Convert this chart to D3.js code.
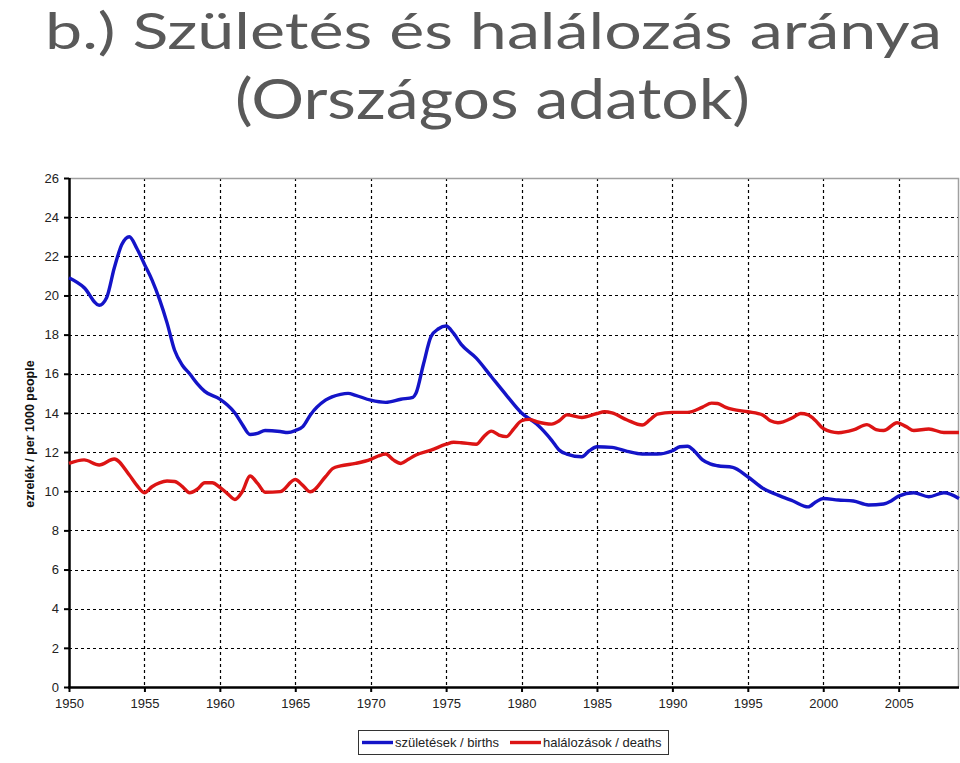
<!DOCTYPE html>
<html><head><meta charset="utf-8">
<script src="https://cdn.jsdelivr.net/npm/d3@7"></script>
<style>
html,body{margin:0;padding:0;background:#fff;}
svg{display:block;}
</style></head>
<body>
<svg id="c" width="960" height="763"></svg>
<script>
const titleLines = ["b.) Születés és halálozás aránya", "(Országos adatok)"];
const yAxisTitle = "ezrelék / per 1000 people";
const seriesNames = ["születések / births", "halálozások / deaths"];
const xTicks = [1950,1955,1960,1965,1970,1975,1980,1985,1990,1995,2000,2005];
const yTicks = [0,2,4,6,8,10,12,14,16,18,20,22,24,26];

const birthYears = [1950,1951,1952,1952.5,1953,1953.5,1954,1954.5,1955,1955.5,1956,1956.5,1957,1957.5,1958,1958.5,1959,1960,1960.5,1961,1961.5,1962,1962.5,1963,1964,1964.5,1965,1965.5,1966,1967,1968,1968.5,1969,1970,1971,1972,1972.8,1973,1973.5,1974,1974.5,1975,1975.5,1976,1977,1978,1979,1980,1981,1982,1982.5,1983,1984,1984.5,1985,1986,1987,1988,1989,1990,1990.5,1991,1991.5,1992,1992.5,1993,1994,1995,1996,1997,1998,1999,1999.5,2000,2001,2002,2003,2004,2004.5,2005,2006,2007,2008,2009];
const births = [20.9,20.4,19.5,19.9,21.4,22.6,23.0,22.4,21.6,20.8,19.8,18.6,17.2,16.45,16.0,15.5,15.1,14.7,14.4,14.0,13.4,12.9,12.95,13.1,13.05,13.0,13.1,13.3,13.9,14.65,14.95,15.0,14.9,14.65,14.54,14.7,14.8,15.0,16.5,17.9,18.3,18.44,18.06,17.5,16.8,15.85,14.9,14.0,13.43,12.6,12.1,11.9,11.76,12.07,12.27,12.24,12.04,11.9,11.9,12.07,12.27,12.3,12.02,11.6,11.4,11.3,11.22,10.74,10.15,9.8,9.5,9.2,9.45,9.63,9.55,9.5,9.3,9.35,9.5,9.75,9.92,9.72,9.92,9.63];

const deathYears = [1950,1951,1952,1953,1954,1954.5,1955,1955.5,1956,1956.5,1957,1957.5,1958,1958.5,1959,1959.5,1960,1960.5,1961,1961.5,1962,1962.5,1963,1964,1965,1965.5,1966,1967,1967.5,1968,1969,1970,1970.5,1971,1971.5,1972,1972.5,1973,1974,1975,1975.5,1976,1977,1977.5,1978,1978.5,1979,1979.5,1980,1980.5,1981,1982,1982.5,1983,1984,1985,1985.5,1986,1987,1988,1988.5,1989,1990,1991,1992,1992.6,1993,1993.5,1994,1995,1996,1996.5,1997,1998,1998.5,1999,1999.5,2000,2001,2002,2002.9,2003.5,2004,2004.9,2005.5,2006,2007,2008,2009];
const deaths = [11.42,11.6,11.34,11.65,10.83,10.3,9.92,10.23,10.43,10.52,10.5,10.25,9.92,10.1,10.43,10.43,10.2,9.88,9.58,10.0,10.78,10.4,9.95,9.98,10.6,10.3,9.97,10.74,11.17,11.29,11.42,11.63,11.8,11.9,11.6,11.42,11.63,11.85,12.1,12.4,12.5,12.48,12.4,12.79,13.07,12.87,12.79,13.2,13.6,13.67,13.55,13.43,13.6,13.9,13.77,13.97,14.06,14.0,13.64,13.38,13.64,13.94,14.03,14.03,14.3,14.5,14.48,14.3,14.18,14.06,13.89,13.6,13.5,13.77,13.97,13.9,13.6,13.2,12.99,13.13,13.4,13.15,13.1,13.5,13.3,13.1,13.18,13.0,13.0];

const svg = d3.select("#c");
const L = 69, R = 959, T = 178, B = 687;
const x = d3.scaleLinear().domain([1950, 2009]).range([L, R]);
const y = d3.scaleLinear().domain([0, 26]).range([B, T]);

// Title
const title = svg.append("g").attr("fill", "#595959")
  .style("font-family", "Lato, 'Open Sans', sans-serif");
title.append("text").attr("x", 493.5).attr("y", 49).attr("text-anchor", "middle")
  .attr("textLength", 897).attr("lengthAdjust", "spacingAndGlyphs")
  .style("font-size", "51px").text(titleLines[0]);
title.append("text").attr("x", 492.5).attr("y", 119).attr("text-anchor", "middle")
  .attr("textLength", 515).attr("lengthAdjust", "spacingAndGlyphs")
  .style("font-size", "56px").text(titleLines[1]);

// Grid
const grid = svg.append("g").attr("stroke", "#000").attr("stroke-width", 1.2)
  .attr("stroke-dasharray", "3,3");
grid.selectAll("line.h").data(yTicks.filter(d => d > 0 && d < 26)).join("line")
  .attr("x1", L).attr("x2", R).attr("y1", d => Math.round(y(d)) + 0.5).attr("y2", d => Math.round(y(d)) + 0.5);
grid.selectAll("line.v").data(xTicks.filter(d => d > 1950)).join("line")
  .attr("y1", T).attr("y2", B).attr("x1", d => Math.round(x(d)) + 0.5).attr("x2", d => Math.round(x(d)) + 0.5);

// Gray frame (top, right)
svg.append("path").attr("d", `M${L},${T + 0.5}H${R - 0.5}V${B}`)
  .attr("fill", "none").attr("stroke", "#a0a0a0").attr("stroke-width", 1.5);

// Axes
const fontAxis = "'Liberation Sans', Arial, sans-serif";
const xAxis = svg.append("g").attr("transform", `translate(0,${B})`)
  .call(d3.axisBottom(x).tickValues(xTicks).tickSize(5).tickPadding(7).tickFormat(d3.format("d")));
const yAxis = svg.append("g").attr("transform", `translate(${L},0)`)
  .call(d3.axisLeft(y).tickValues(yTicks).tickSize(5).tickPadding(5));
[xAxis, yAxis].forEach(a => {
  a.select(".domain").attr("stroke", "#000").attr("stroke-width", 2.5);
  a.selectAll(".tick line").attr("stroke", "#000").attr("stroke-width", 2);
  a.selectAll("text").attr("fill", "#222").style("font-family", fontAxis).style("font-size", "13px");
});
xAxis.select(".domain").attr("d", `M${L - 1},0.5H${R}`);
yAxis.select(".domain").attr("d", `M0.5,${T}V${B + 1}`);

// Y axis title
svg.append("text").attr("transform", `translate(34,434) rotate(-90)`)
  .attr("text-anchor", "middle").style("font-family", fontAxis).style("font-size", "12.5px")
  .style("font-weight", "bold").attr("fill", "#111").text(yAxisTitle);

// Lines
const line = d3.line().x(d => x(d[0])).y(d => y(d[1])).curve(d3.curveMonotoneX);
const colors = ["#1414c8", "#dc1414"];
svg.append("path").datum(d3.zip(birthYears, births)).attr("d", line)
  .attr("fill", "none").attr("stroke", colors[0]).attr("stroke-width", 3.4).attr("stroke-linejoin", "round");
svg.append("path").datum(d3.zip(deathYears, deaths)).attr("d", line)
  .attr("fill", "none").attr("stroke", colors[1]).attr("stroke-width", 3.4).attr("stroke-linejoin", "round");

// Legend
const lg = svg.append("g");
lg.append("rect").attr("x", 358.5).attr("y", 730.5).attr("width", 310).attr("height", 24)
  .attr("fill", "#fff").attr("stroke", "#333").attr("stroke-width", 1);
const items = [{x: 362, c: colors[0], t: seriesNames[0]}, {x: 510, c: colors[1], t: seriesNames[1]}];
items.forEach(it => {
  lg.append("line").attr("x1", it.x).attr("x2", it.x + 31).attr("y1", 742.5).attr("y2", 742.5)
    .attr("stroke", it.c).attr("stroke-width", 3.4);
  lg.append("text").attr("x", it.x + 33).attr("y", 747).style("font-family", fontAxis)
    .style("font-size", "13px").attr("fill", "#222").text(it.t);
});
</script>
</body></html>
